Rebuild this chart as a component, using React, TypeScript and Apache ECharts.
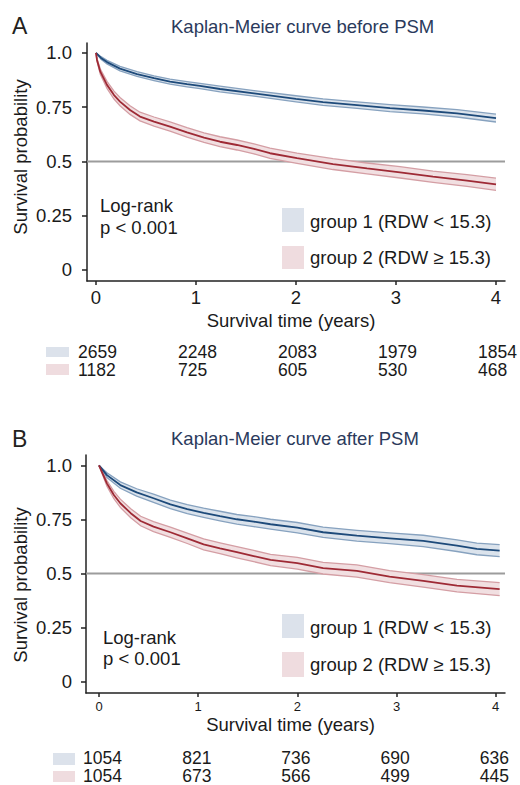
import React, { useEffect, useRef } from 'react';
import * as echarts from 'echarts';

const FONT = '"Liberation Sans", Arial, Helvetica, sans-serif';

// ---------- Panel A: before PSM ----------
const timeA1 = [0, 0.05, 0.11, 0.24, 0.41, 0.58, 0.74, 0.91, 1.04, 1.24, 1.58, 2.0, 2.27, 2.61, 2.94, 3.27, 3.61, 4.0];
const survA1 = [1.0, 0.977, 0.958, 0.928, 0.903, 0.884, 0.868, 0.856, 0.848, 0.834, 0.814, 0.789, 0.774, 0.76, 0.746, 0.735, 0.722, 0.7];
const ciA1 = [0, 0.006, 0.008, 0.01, 0.011, 0.011, 0.012, 0.012, 0.012, 0.013, 0.013, 0.014, 0.015, 0.015, 0.016, 0.016, 0.017, 0.018];

const timeA2 = [0, 0.01, 0.043, 0.11, 0.18, 0.24, 0.34, 0.44, 0.58, 0.74, 0.91, 1.08, 1.24, 1.41, 1.58, 1.74, 2.01, 2.37, 2.71, 3.04, 3.37, 3.71, 4.0];
const survA2 = [1.0, 0.968, 0.914, 0.853, 0.806, 0.776, 0.737, 0.707, 0.684, 0.661, 0.634, 0.61, 0.591, 0.576, 0.558, 0.538, 0.515, 0.488, 0.468, 0.45, 0.43, 0.412, 0.395];
const ciA2 = [0, 0.006, 0.012, 0.016, 0.018, 0.019, 0.02, 0.02, 0.021, 0.021, 0.022, 0.022, 0.023, 0.023, 0.023, 0.024, 0.024, 0.025, 0.025, 0.026, 0.026, 0.027, 0.028];

// ---------- Panel B: after PSM ----------
const timeB1 = [0, 0.08, 0.215, 0.38, 0.55, 0.72, 0.89, 1.055, 1.22, 1.39, 1.56, 1.73, 2.0, 2.26, 2.6, 2.93, 3.27, 3.61, 3.81, 4.04];
const survB1 = [1.0, 0.955, 0.909, 0.875, 0.848, 0.82, 0.798, 0.781, 0.766, 0.751, 0.74, 0.728, 0.712, 0.691, 0.675, 0.663, 0.651, 0.629, 0.614, 0.606];
const ciB1 = [0, 0.011, 0.015, 0.017, 0.019, 0.02, 0.021, 0.021, 0.022, 0.022, 0.023, 0.023, 0.024, 0.024, 0.025, 0.025, 0.026, 0.027, 0.027, 0.028];

const timeB2 = [0, 0.08, 0.15, 0.215, 0.32, 0.42, 0.55, 0.72, 0.89, 1.055, 1.22, 1.39, 1.56, 1.73, 2.0, 2.26, 2.6, 2.93, 3.27, 3.61, 4.04];
const survB2 = [1.0, 0.917, 0.863, 0.825, 0.779, 0.743, 0.717, 0.691, 0.663, 0.635, 0.617, 0.599, 0.581, 0.563, 0.548, 0.525, 0.512, 0.486, 0.466, 0.444, 0.428];
const ciB2 = [0, 0.013, 0.017, 0.019, 0.021, 0.022, 0.023, 0.024, 0.024, 0.025, 0.025, 0.026, 0.026, 0.026, 0.027, 0.027, 0.028, 0.028, 0.029, 0.029, 0.03];

// ---------- Ticks, labels, risk tables ----------
const xTickYears = [0, 1, 2, 3, 4];
const yTickValues = [0, 0.25, 0.5, 0.75, 1];
const riskTimes = [0, 1, 2, 3, 4];
const riskA1 = [2659, 2248, 2083, 1979, 1854];
const riskA2 = [1182, 725, 605, 530, 468];
const riskB1 = [1054, 821, 736, 690, 636];
const riskB2 = [1054, 673, 566, 499, 445];
const panelLetters = ['A', 'B'];
const panelTitles = ['Kaplan-Meier curve before PSM', 'Kaplan-Meier curve after PSM'];
const groupLabels = ['group 1 (RDW < 15.3)', 'group 2 (RDW ≥ 15.3)'];
const logRankLines = ['Log-rank', 'p < 0.001'];
const yAxisTitle = 'Survival probability';
const xAxisTitle = 'Survival time (years)';
const medianLine = 0.5;

// ---------- Styling / layout ----------
const COLORS = [
  { line: '#1d4a7a', edge: '#87a2bf', fill: '#dbe3ec', box: '#dce2eb' },
  { line: '#9e2a35', edge: '#d49ea4', fill: '#f1dfe1', box: '#efdcdf' },
];
const TEXT = '#1a1a1a';
const TITLE = '#2b3a5c';

const layouts = [
  {
    left: 87, top: 43, width: 418, height: 238,
    xMin: -0.09, xMax: 4.09, yMin: -0.0507, yMax: 1.046,
    xLabelSize: 18.5, xLabelMargin: 7, yLabelMargin: 15,
    letterY: 26, titleY: 26, yNameY: 157, xNameY: 320,
    logX: 100, logY: [205, 227],
    legBoxY: [208, 246], legBoxH: [24, 23], legTextY: [221, 257],
    riskBoxX: 46, riskBoxW: 23, riskBoxY: [347, 364], riskBoxH: [10, 11], riskRowY: [352, 370], riskOffset: -18,
  },
  {
    left: 86, top: 455, width: 419, height: 238,
    xMin: -0.131, xMax: 4.094, yMin: -0.052, yMax: 1.048,
    xLabelSize: 13, xLabelMargin: 7, yLabelMargin: 14,
    letterY: 439, titleY: 438, yNameY: 585, xNameY: 724,
    logX: 103, logY: [637, 658],
    legBoxY: [614, 652], legBoxH: [24, 25], legTextY: [627, 664],
    riskBoxX: 53, riskBoxW: 22, riskBoxY: [753, 771], riskBoxH: [12, 11], riskRowY: [758, 776], riskOffset: -16,
  },
];

const curves = [
  [
    { t: timeA1, s: survA1, ci: ciA1 },
    { t: timeA2, s: survA2, ci: ciA2 },
  ],
  [
    { t: timeB1, s: survB1, ci: ciB1 },
    { t: timeB2, s: survB2, ci: ciB2 },
  ],
];
const risks = [
  [riskA1, riskA2],
  [riskB1, riskB2],
];

const font = (size: number) => `${size}px ${FONT}`;

function txt(x: number, y: number, text: string, size: number, fill: string, align = 'left', extra: any = {}, lineHeight?: number) {
  return {
    type: 'text',
    x,
    y,
    silent: true,
    ...extra,
    style: {
      text,
      fill,
      font: font(size),
      fontSize: size,
      fontFamily: FONT,
      align,
      textAlign: align,
      verticalAlign: 'middle',
      textVerticalAlign: 'middle',
      ...(lineHeight ? { lineHeight } : {}),
    },
  };
}

function bandSeries(p: number, c: { t: number[]; s: number[]; ci: number[] }, col: any) {
  return {
    type: 'custom',
    coordinateSystem: 'cartesian2d',
    xAxisIndex: p,
    yAxisIndex: p,
    silent: true,
    z: 2,
    data: [[c.t[0], c.s[0]]],
    renderItem: (_params: any, api: any) => {
      const upper = c.t.map((t, i) => api.coord([t, c.s[i] + c.ci[i]]));
      const lower = c.t.map((t, i) => api.coord([t, c.s[i] - c.ci[i]]));
      return {
        type: 'group',
        children: [
          { type: 'polygon', shape: { points: upper.concat(lower.slice().reverse()) }, style: { fill: col.fill, stroke: 'none' } },
          { type: 'polyline', shape: { points: upper }, style: { stroke: col.edge, lineWidth: 1.3, fill: 'none' } },
          { type: 'polyline', shape: { points: lower }, style: { stroke: col.edge, lineWidth: 1.3, fill: 'none' } },
        ],
      };
    },
  };
}

function buildOption() {
  const grid: any[] = [];
  const xAxis: any[] = [];
  const yAxis: any[] = [];
  const series: any[] = [];
  const graphic: any[] = [];

  layouts.forEach((L, p) => {
    grid.push({ left: L.left, top: L.top, width: L.width, height: L.height, containLabel: false, outerBoundsMode: 'none' });
    xAxis.push({
      type: 'value', gridIndex: p, min: L.xMin, max: L.xMax, position: 'bottom',
      axisLine: { show: true, onZero: false, lineStyle: { color: '#222', width: 1.5 } },
      axisTick: { show: true, inside: false, length: 4, customValues: xTickYears, lineStyle: { color: '#222', width: 1.5 } },
      axisLabel: {
        customValues: xTickYears, color: TEXT, fontSize: L.xLabelSize, fontFamily: FONT, margin: L.xLabelMargin,
        lineHeight: L.xLabelSize,
        formatter: (v: number) => String(Math.round(v)),
      },
      splitLine: { show: false },
    });
    yAxis.push({
      type: 'value', gridIndex: p, min: L.yMin, max: L.yMax, position: 'left',
      axisLine: { show: true, onZero: false, lineStyle: { color: '#222', width: 1.5 } },
      axisTick: { show: true, inside: false, length: 5, customValues: yTickValues, lineStyle: { color: '#222', width: 1.5 } },
      axisLabel: {
        customValues: yTickValues, color: TEXT, fontSize: 18.5, fontFamily: FONT, margin: L.yLabelMargin,
        formatter: (v: number) => (v === 1 ? '1.0' : String(v)),
      },
      splitLine: { show: false },
    });

    // reference line at 0.5
    series.push({
      type: 'line', xAxisIndex: p, yAxisIndex: p, silent: true, symbol: 'none', z: 1,
      data: [[L.xMin, medianLine], [L.xMax, medianLine]],
      lineStyle: { color: '#9c9c9c', width: 2 },
    });

    // confidence bands
    curves[p].forEach((c, g) => series.push(bandSeries(p, c, COLORS[g])));
    // survival curves
    curves[p].forEach((c, g) => {
      series.push({
        type: 'line', xAxisIndex: p, yAxisIndex: p, silent: true, symbol: 'none', z: 3,
        data: c.t.map((t, i) => [t, c.s[i]]),
        lineStyle: { color: COLORS[g].line, width: 1.8 },
      });
    });

    const xPix = (t: number) => L.left + ((t - L.xMin) / (L.xMax - L.xMin)) * L.width;

    // panel letter and title
    graphic.push(txt(12, L.letterY, panelLetters[p], 23, '#231f20'));
    graphic.push(txt(171, L.titleY, panelTitles[p], 18.5, TITLE));
    // axis titles
    graphic.push(txt(20, L.yNameY, yAxisTitle, 18.5, TEXT, 'center', { rotation: Math.PI / 2 }));
    graphic.push(txt(L.left + L.width / 2 - 5, L.xNameY, xAxisTitle, 18.5, TEXT, 'center', {}, 17));
    // log-rank
    logRankLines.forEach((s, i) => graphic.push(txt(L.logX, L.logY[i], s, 18.5, TEXT)));
    // legend
    groupLabels.forEach((s, g) => {
      graphic.push({
        type: 'rect', silent: true,
        shape: { x: 282, y: L.legBoxY[g], width: 22, height: L.legBoxH[g] },
        style: { fill: COLORS[g].box },
      });
      graphic.push(txt(310, L.legTextY[g], s, 18.5, TEXT));
    });
    // numbers at risk
    risks[p].forEach((row, g) => {
      graphic.push({
        type: 'rect', silent: true,
        shape: { x: L.riskBoxX, y: L.riskBoxY[g], width: L.riskBoxW, height: L.riskBoxH[g] },
        style: { fill: COLORS[g].box },
      });
      row.forEach((n, i) => {
        graphic.push(txt(xPix(riskTimes[i]) + L.riskOffset, L.riskRowY[g], String(n), 17.5, TEXT, 'left', {}, 15));
      });
    });
  });

  return {
    animation: false,
    backgroundColor: '#ffffff',
    textStyle: { fontFamily: FONT },
    grid,
    xAxis,
    yAxis,
    series,
    graphic: { elements: graphic },
  };
}

export default function App() {
  const ref = useRef<HTMLDivElement>(null);
  useEffect(() => {
    document.body.style.margin = '0';
    if (!ref.current) return;
    const chart = echarts.init(ref.current, null, { renderer: 'svg' });
    chart.setOption(buildOption() as any);
    return () => chart.dispose();
  }, []);
  return <div ref={ref} style={{ width: 520, height: 785 }} />;
}
